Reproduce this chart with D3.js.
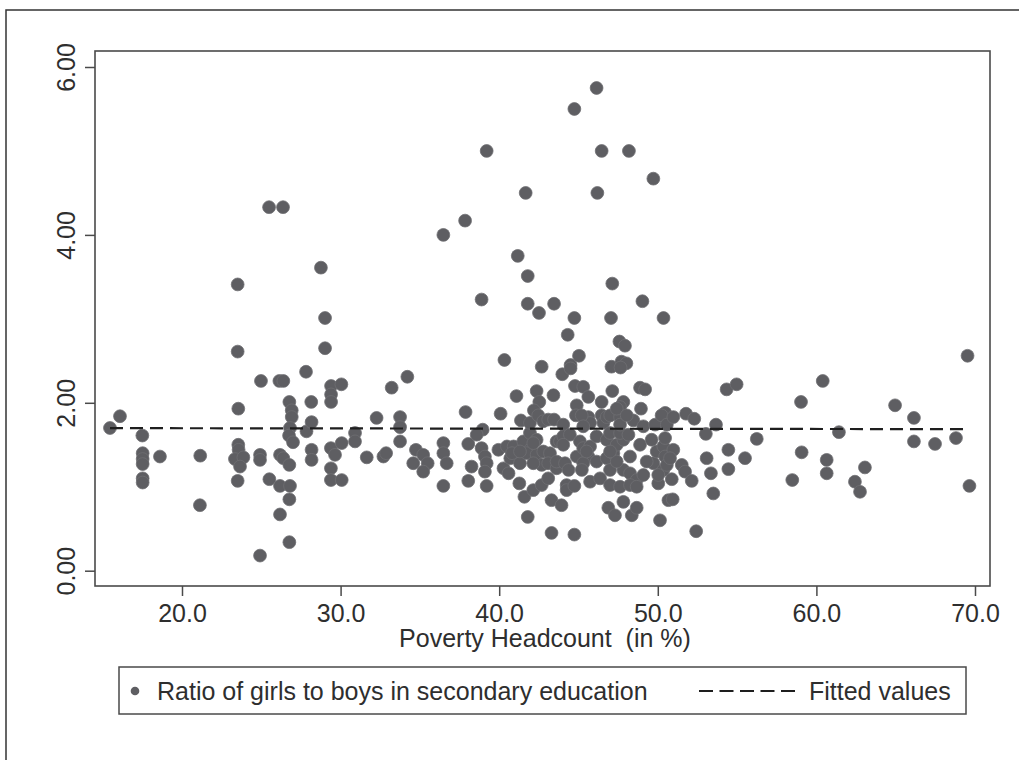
<!DOCTYPE html>
<html>
<head>
<meta charset="utf-8">
<script src="https://cdn.jsdelivr.net/npm/d3@7"></script>
<style>
  html, body { margin: 0; padding: 0; background: #ffffff; }
  svg { display: block; }
  text { font-family: Arial, "Liberation Sans", Helvetica, sans-serif; fill: #2e2e2e; }
</style>
</head>
<body>
<svg id="chart" width="1019" height="760"></svg>
<script>
// ---- data ----
const poverty = [
  15.46,16.09,17.50,17.52,17.52,17.52,17.52,17.52,18.61,21.15,21.13,
  23.51,23.51,23.55,23.55,23.57,23.34,23.87,23.66,23.51,24.98,24.92,24.92,24.92,25.49,25.51,
  26.37,26.14,26.39,26.77,26.92,26.92,26.81,26.75,27.00,26.18,26.39,26.77,26.18,26.81,26.77,26.18,26.77,27.82,27.85,28.15,28.17,28.17,28.17,
  28.76,29.02,29.02,29.40,30.05,29.40,29.40,29.39,29.65,29.39,29.39,30.07,30.07,30.91,30.91,
  31.65,32.27,32.70,32.87,33.22,33.75,33.75,33.75,34.21,34.75,34.58,35.21,35.49,35.21,36.48,36.48,36.48,36.69,36.48,
  37.85,37.88,38.05,38.26,38.05,38.89,39.21,38.96,38.58,38.89,39.10,39.21,39.10,39.21,39.95,40.09,40.33,
  40.27,40.59,40.70,40.49,40.91,40.81,
  41.09,41.17,41.80,41.80,41.67,41.37,41.31,41.27,41.59,41.80,41.52,41.94,41.94,41.73,41.31,41.94,
  42.36,42.53,42.19,42.46,42.51,42.68,42.36,42.36,42.78,42.68,42.15,42.15,42.68,42.78,42.15,
  43.46,43.42,43.09,43.46,43.98,43.20,43.09,43.62,43.09,43.30,43.93,43.30,43.62,43.83,43.62,
  44.74,44.74,44.32,44.50,44.50,44.78,44.89,44.84,44.04,44.04,44.46,44.04,44.89,44.15,44.37,44.25,44.25,44.74,44.74,
  45.03,45.30,45.62,45.62,45.73,45.20,45.09,45.30,45.73,45.62,45.30,45.21,45.73,45.30,45.51,
  46.14,46.46,46.19,46.46,46.46,46.14,46.14,46.78,46.78,46.57,46.36,46.88,46.78,
  47.13,47.05,47.58,47.93,47.08,47.71,48.02,47.65,47.13,47.83,47.62,47.31,47.00,47.62,47.41,47.20,47.41,47.83,46.99,47.62,47.62,47.83,46.99,46.99,47.62,47.30,47.83,47.41,46.99,
  48.18,48.15,48.25,48.25,48.67,48.25,48.67,48.36,48.67,48.88,48.88,48.94,48.46,48.04,
  49.03,49.72,49.20,49.09,49.09,49.83,49.72,49.61,49.30,49.93,50.36,50.47,50.24,50.03,50.14,50.35,50.46,50.35,50.03,50.67,50.57,50.46,50.57,
  50.98,51.78,52.30,53.67,53.03,50.98,50.77,51.51,51.72,52.14,50.88,50.94,54.45,54.45,53.08,53.35,53.50,55.50,52.42,54.34,54.97,56.24,
  58.48,59.03,59.07,60.40,60.65,60.65,61.42,62.43,62.75,63.06,64.96,66.15,66.15,67.48,68.80,69.53,69.65
];
const ratio = [
  1.70,1.84,1.61,1.40,1.33,1.27,1.10,1.05,1.36,1.37,0.78,
  3.41,2.61,1.93,1.50,1.44,1.33,1.35,1.24,1.07,2.26,1.38,1.32,0.18,4.33,1.09,
  4.33,2.26,2.26,2.01,1.91,1.83,1.70,1.61,1.53,1.38,1.34,1.26,1.01,1.01,0.85,0.67,0.34,2.37,1.66,2.01,1.77,1.44,1.32,
  3.61,3.01,2.65,2.20,2.22,2.10,2.01,1.46,1.38,1.22,1.08,1.52,1.08,1.64,1.54,
  1.35,1.82,1.36,1.40,2.18,1.83,1.71,1.54,2.31,1.44,1.28,1.38,1.28,1.18,4.00,1.52,1.40,1.28,1.01,
  4.17,1.89,1.51,1.24,1.07,3.23,5.00,1.68,1.62,1.46,1.36,1.28,1.18,1.01,1.44,1.87,2.51,
  1.22,1.16,1.34,1.48,1.48,1.40,
  2.08,3.75,3.51,3.18,4.50,1.79,1.28,1.04,0.88,0.64,1.54,1.64,1.44,1.40,1.42,1.76,
  2.14,2.01,1.91,1.85,3.07,2.43,1.56,1.38,1.42,1.26,1.28,0.96,1.02,1.78,1.52,
  3.18,2.09,1.80,1.80,2.34,1.40,1.28,1.22,1.10,0.84,0.78,0.45,1.54,1.54,1.30,
  5.50,3.01,2.81,2.45,2.41,2.20,1.97,1.85,1.74,1.60,1.62,1.50,1.36,1.28,1.20,1.02,0.96,1.01,0.43,
  2.56,2.19,2.07,1.83,1.76,1.85,1.54,1.46,1.48,1.36,1.28,1.20,1.06,1.72,1.42,
  5.75,5.00,4.50,2.01,1.85,1.60,1.30,1.34,1.56,1.76,1.10,0.75,1.83,
  3.42,3.01,2.73,2.68,2.43,2.49,2.47,2.42,2.14,2.01,1.95,1.87,1.85,1.83,1.93,1.40,1.50,1.56,1.64,1.64,1.74,1.20,1.20,1.02,1.00,0.66,0.82,1.30,1.42,
  5.00,1.62,1.36,1.16,1.08,1.02,1.00,0.66,0.75,1.50,2.18,1.93,1.79,1.85,
  3.21,4.67,2.16,1.14,1.72,1.74,1.28,1.56,1.30,1.42,3.01,1.88,1.85,1.04,0.60,1.48,1.36,1.20,1.14,0.84,1.74,1.58,1.26,
  1.83,1.87,1.81,1.74,1.63,1.44,1.34,1.26,1.18,1.07,1.09,0.85,1.44,1.21,1.34,1.16,0.92,1.34,0.47,2.16,2.22,1.57,
  1.08,2.01,1.41,2.26,1.32,1.16,1.65,1.06,0.94,1.23,1.97,1.82,1.54,1.51,1.58,2.56,1.01
];
const fitX = [15.46, 69.65];
const fitY = [1.698, 1.686];
const xTicks = [20, 30, 40, 50, 60, 70];
const yTicks = [0, 2, 4, 6];
const xTitle = "Poverty Headcount  (in %)";
const legendLabels = ["Ratio of girls to boys in secondary education", "Fitted values"];

// ---- layout ----
const svg = d3.select("#chart");
const plot = { left: 95, right: 990, top: 51, bottom: 586 };
const x = d3.scaleLinear().domain([14.515, 70.946]).range([plot.left, plot.right]);
const y = d3.scaleLinear().domain([-0.1823, 6.1906]).range([plot.bottom, plot.top]);
const FS = "25px";

// outer frame (extends past the picture edge on right and bottom)
svg.append("rect").attr("x", 6).attr("y", 10).attr("width", 1100).attr("height", 900)
  .attr("fill", "none").attr("stroke", "#333").attr("stroke-width", 1.5);

// plot frame
svg.append("rect").attr("x", plot.left).attr("y", plot.top)
  .attr("width", plot.right - plot.left).attr("height", plot.bottom - plot.top)
  .attr("fill", "#fff").attr("stroke", "#4a4a4a").attr("stroke-width", 1.6);

// y axis
const yAxis = svg.append("g").attr("transform", `translate(${plot.left},0)`)
  .call(d3.axisLeft(y).tickValues(yTicks).tickFormat(d3.format(".2f")).tickSize(10).tickPadding(6));
yAxis.select(".domain").remove();
yAxis.selectAll("line").attr("stroke", "#4a4a4a").attr("stroke-width", 1.5);
yAxis.selectAll("text")
  .attr("x", 0).attr("y", 0).attr("dx", 0).attr("dy", 0)
  .attr("text-anchor", "middle")
  .attr("transform", "translate(-20,0) rotate(-90)")
  .style("font-size", FS).style("fill", "#2e2e2e");

// x axis
const xAxis = svg.append("g").attr("transform", `translate(0,${plot.bottom})`)
  .call(d3.axisBottom(x).tickValues(xTicks).tickFormat(d3.format(".1f")).tickSize(10).tickPadding(8));
xAxis.select(".domain").remove();
xAxis.selectAll("line").attr("stroke", "#4a4a4a").attr("stroke-width", 1.5);
xAxis.selectAll("text").style("font-size", FS).style("fill", "#2e2e2e").attr("dy", "0.71em");

// x title
svg.append("text").attr("x", 545).attr("y", 647)
  .attr("text-anchor", "middle").style("font-size", FS).style("white-space", "pre")
  .attr("xml:space", "preserve")
  .text(xTitle);

// points
const pts = poverty.map((p, i) => ({ p, r: ratio[i] }));
svg.append("g").selectAll("circle").data(pts).join("circle")
  .attr("cx", d => x(d.p)).attr("cy", d => y(d.r)).attr("r", 6.4)
  .attr("fill", "#5e5e62").attr("stroke", "#6e6e72").attr("stroke-width", 0.8);

// fitted line
const fit = fitX.map((v, i) => [v, fitY[i]]);
svg.append("path").datum(fit)
  .attr("d", d3.line().x(d => x(d[0])).y(d => y(d[1])))
  .attr("fill", "none").attr("stroke", "#1e1e1e").attr("stroke-width", 2.2)
  .attr("stroke-dasharray", "13,7");

// legend
const lg = svg.append("g");
lg.append("rect").attr("x", 119).attr("y", 667).attr("width", 847).attr("height", 47)
  .attr("fill", "#fff").attr("stroke", "#4a4a4a").attr("stroke-width", 1.5);
lg.append("circle").attr("cx", 135).attr("cy", 691).attr("r", 4.3).attr("fill", "#5e5e62");
lg.append("text").attr("x", 157).attr("y", 700).style("font-size", FS).text(legendLabels[0]);
lg.append("line").attr("x1", 699).attr("x2", 795).attr("y1", 691).attr("y2", 691)
  .attr("stroke", "#1e1e1e").attr("stroke-width", 2.2).attr("stroke-dasharray", "14,6.5");
lg.append("text").attr("x", 809).attr("y", 700).style("font-size", FS).text(legendLabels[1]);
</script>
</body>
</html>
